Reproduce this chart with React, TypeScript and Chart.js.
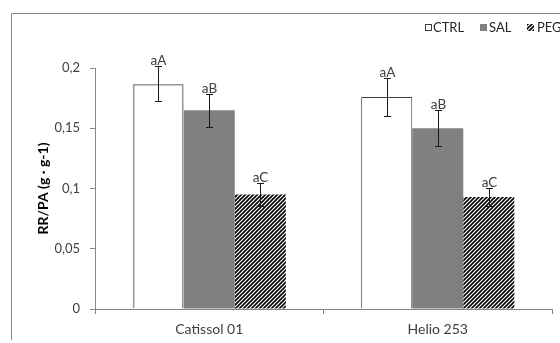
import React, { useEffect, useRef } from 'react';
import { Chart, registerables } from 'chart.js';

Chart.register(...registerables);

// Cultivars on the x axis and the three treatments
const categories = ['Catissol 01', 'Helio 253'];
const treatments = ['CTRL', 'SAL', 'PEG'];

// Mean root/shoot ratio per treatment (one value per cultivar)
const ctrlValues = [0.187, 0.176];
const salValues = [0.165, 0.15];
const pegValues = [0.095, 0.093];

// Standard error per bar
const ctrlErrors = [0.0145, 0.016];
const salErrors = [0.0137, 0.015];
const pegErrors = [0.0093, 0.0078];

// Significance letters above each bar
const ctrlLetters = ['aA', 'aA'];
const salLetters = ['aB', 'aB'];
const pegLetters = ['aC', 'aC'];

// Y axis ticks
const yMin = 0;
const yMax = 0.2;
const yStep = 0.05;

const FONT = 'Lato, "Open Sans", "DejaVu Sans", sans-serif';
const AXIS_GRAY = '#868686';
const TEXT_GRAY = '#404040';

function makeHatch(): CanvasPattern | string {
  const size = 4;
  const c = document.createElement('canvas');
  c.width = size;
  c.height = size;
  const g = c.getContext('2d');
  if (!g) return '#000';
  g.fillStyle = '#ffffff';
  g.fillRect(0, 0, size, size);
  g.strokeStyle = '#000000';
  g.lineWidth = 1.6;
  g.beginPath();
  g.moveTo(-1, size + 1);
  g.lineTo(size + 1, -1);
  g.moveTo(-1, 1);
  g.lineTo(1, -1);
  g.moveTo(size - 1, size + 1);
  g.lineTo(size + 1, size - 1);
  g.stroke();
  const p = g.createPattern(c, 'repeat');
  return p || '#000';
}

const errorsByDataset = [ctrlErrors, salErrors, pegErrors];
const lettersByDataset = [ctrlLetters, salLetters, pegLetters];

const decorations = {
  id: 'decorations',
  beforeDraw(chart: any) {
    const { ctx, width, height } = chart;
    ctx.save();
    ctx.fillStyle = '#ffffff';
    ctx.fillRect(0, 0, width, height);
    // outer frame of the chart object
    ctx.strokeStyle = AXIS_GRAY;
    ctx.lineWidth = 1;
    ctx.beginPath();
    ctx.moveTo(11.5, 340);
    ctx.lineTo(11.5, 13.5);
    ctx.lineTo(width, 13.5);
    ctx.stroke();
    ctx.restore();
  },
  afterDatasetsDraw(chart: any) {
    const { ctx } = chart;
    const yScale = chart.scales.y;
    ctx.save();
    chart.data.datasets.forEach((ds: any, di: number) => {
      const meta = chart.getDatasetMeta(di);
      meta.data.forEach((bar: any, i: number) => {
        const v = ds.data[i];
        const e = errorsByDataset[di][i];
        const x = Math.round(bar.x) + 0.5;
        const yTop = Math.round(yScale.getPixelForValue(v + e)) + 0.5;
        const yBot = Math.round(yScale.getPixelForValue(v - e)) + 0.5;
        ctx.strokeStyle = '#1a1a1a';
        ctx.lineWidth = 1;
        ctx.beginPath();
        ctx.moveTo(x, yTop);
        ctx.lineTo(x, yBot);
        ctx.moveTo(x - 3.5, yTop);
        ctx.lineTo(x + 3.5, yTop);
        ctx.moveTo(x - 3.5, yBot);
        ctx.lineTo(x + 3.5, yBot);
        ctx.stroke();
        ctx.fillStyle = TEXT_GRAY;
        ctx.font = `13.5px ${FONT}`;
        ctx.textAlign = 'center';
        ctx.textBaseline = 'alphabetic';
        ctx.fillText(lettersByDataset[di][i], x, yTop - 2);
      });
    });
    ctx.restore();
  },
  afterDraw(chart: any) {
    const { ctx } = chart;
    ctx.save();
    ctx.font = `13px ${FONT}`;
    ctx.textBaseline = 'middle';
    ctx.textAlign = 'left';
    const cy = 27;
    const boxX = [425, 480, 527];
    const textX = [433, 489, 537];
    const ds = chart.data.datasets;
    treatments.forEach((name, i) => {
      const box = 6;
      const bx = boxX[i];
      const by = cy - box / 2;
      if (i === 0) {
        ctx.fillStyle = '#ffffff';
        ctx.fillRect(bx, by, box, box);
        ctx.strokeStyle = '#404040';
        ctx.lineWidth = 1;
        ctx.strokeRect(bx + 0.5, by + 0.5, box, box);
      } else if (i === 1) {
        ctx.fillStyle = '#808080';
        ctx.fillRect(bx, by, box + 1, box + 1);
      } else {
        ctx.fillStyle = ds[2].backgroundColor;
        ctx.fillRect(bx, by, box + 1, box + 1);
      }
      ctx.fillStyle = '#262626';
      ctx.fillText(name, textX[i], cy + 1);
    });
    ctx.restore();
  },
};

export default function App() {
  const canvasRef = useRef<HTMLCanvasElement | null>(null);

  useEffect(() => {
    const canvas = canvasRef.current;
    if (!canvas) return;
    const hatch = makeHatch();
    const chart = new Chart(canvas, {
      type: 'bar',
      data: {
        labels: categories,
        datasets: [
          {
            label: treatments[0],
            data: ctrlValues,
            backgroundColor: '#ffffff',
            borderColor: ['#9a9a9a', '#404040'],
            borderWidth: [2, 1] as any,
            borderSkipped: 'bottom',
          },
          {
            label: treatments[1],
            data: salValues,
            backgroundColor: '#808080',
            borderWidth: 0,
          },
          {
            label: treatments[2],
            data: pegValues,
            backgroundColor: hatch as any,
            borderWidth: 0,
          },
        ],
      },
      options: {
        responsive: false,
        animation: false,
        devicePixelRatio: 1,
        layout: { padding: { top: 68, right: 8, left: 0, bottom: 0 } },
        datasets: {
          bar: { categoryPercentage: 0.67, barPercentage: 1.0 },
        },
        plugins: {
          legend: { display: false },
          tooltip: { enabled: false },
        },
        scales: {
          x: {
            grid: {
              offset: true,
              drawOnChartArea: false,
              drawTicks: true,
              tickLength: 5,
              color: AXIS_GRAY,
            },
            border: { display: true, color: AXIS_GRAY },
            ticks: {
              color: TEXT_GRAY,
              font: { family: FONT, size: 14 },
              padding: 7,
            },
            afterFit(scale: any) {
              scale.height = 34;
            },
          },
          y: {
            min: yMin,
            max: yMax,
            grid: {
              drawOnChartArea: false,
              drawTicks: true,
              tickLength: 5,
              color: AXIS_GRAY,
            },
            border: { display: true, color: AXIS_GRAY },
            ticks: {
              stepSize: yStep,
              color: TEXT_GRAY,
              font: { family: FONT, size: 13 },
              padding: 10,
              callback: (v: any) => String(Math.round(Number(v) * 100) / 100).replace('.', ','),
            },
            title: {
              display: true,
              text: 'RR/PA (g · g-1)',
              color: '#000000',
              font: { family: FONT, size: 14, weight: 'bold' },
              padding: { top: 35, bottom: 0 },
            },
            afterFit(scale: any) {
              scale.width = 95;
            },
          },
        },
      },
      plugins: [decorations],
    });
    return () => chart.destroy();
  }, []);

  return (
    <div
      style={{
        position: 'fixed',
        left: 0,
        top: 0,
        width: 560,
        height: 343,
        overflow: 'hidden',
        background: '#ffffff',
      }}
    >
      <canvas ref={canvasRef} width={560} height={343} style={{ display: 'block' }} />
    </div>
  );
}
